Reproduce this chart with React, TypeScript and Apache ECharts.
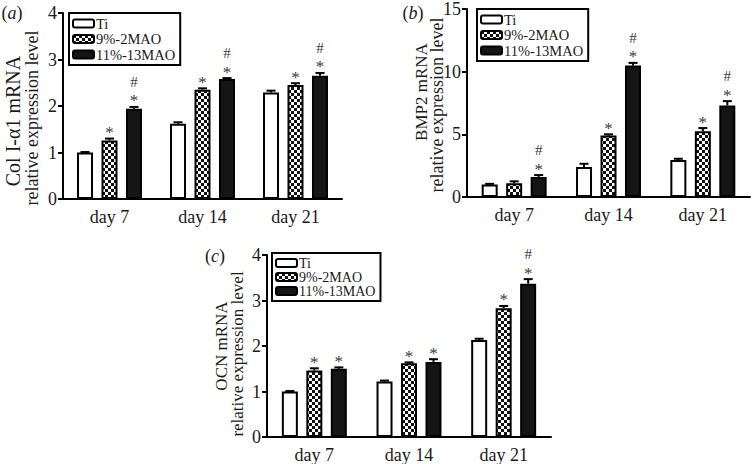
import React, { useEffect, useRef } from "react";
import * as echarts from "echarts";

const categories = ["day 7", "day 14", "day 21"];
const groupNames = ["Ti", "9%-2MAO", "11%-13MAO"];

// Panel (a) Col I-α1
const colTi = [1.0, 1.62, 2.29];
const colM9 = [1.26, 2.35, 2.45];
const colM11 = [1.94, 2.58, 2.65];
const colErrTi = [0.01, 0.03, 0.04];
const colErrM9 = [0.04, 0.03, 0.04];
const colErrM11 = [0.04, 0.02, 0.06];
const colSigTi = ["", "", ""];
const colSigM9 = ["*", "*", "*"];
const colSigM11 = ["#*", "#*", "#*"];

// Panel (b) BMP2
const bmpTi = [1.0, 2.4, 2.95];
const bmpM9 = [1.1, 4.9, 5.25];
const bmpM11 = [1.6, 10.5, 7.3];
const bmpErrTi = [0.05, 0.25, 0.1];
const bmpErrM9 = [0.15, 0.1, 0.25];
const bmpErrM11 = [0.15, 0.2, 0.35];
const bmpSigTi = ["", "", ""];
const bmpSigM9 = ["", "*", "*"];
const bmpSigM11 = ["#*", "#*", "#*"];

// Panel (c) OCN
const ocnTi = [1.0, 1.22, 2.13];
const ocnM9 = [1.46, 1.62, 2.83];
const ocnM11 = [1.5, 1.65, 3.37];
const ocnErrTi = [0.01, 0.02, 0.03];
const ocnErrM9 = [0.05, 0.02, 0.05];
const ocnErrM11 = [0.03, 0.06, 0.1];
const ocnSigTi = ["", "", ""];
const ocnSigM9 = ["*", "*", "*"];
const ocnSigM11 = ["*", "*", "#*"];

const yMax = [4, 15, 4];
const yInterval = [1, 5, 1];
const panelLabels = ["a", "b", "c"];
const nameLine1 = ["Col I-\u03b11 mRNA", "BMP2 mRNA", "OCN mRNA"];
const nameLine2 = "relative expression level";

const FONT = "'Liberation Serif', 'Times New Roman', serif";
const TXT = "#1a1a1a";

export default function App() {
  const ref = useRef<HTMLDivElement>(null);
  useEffect(() => {
    if (!ref.current) return;
    const chart = echarts.init(ref.current, undefined, { renderer: "svg" });

    const cv = document.createElement("canvas");
    const cell = 3;
    cv.width = cell * 2;
    cv.height = cell * 2;
    const ctx = cv.getContext("2d")!;
    ctx.fillStyle = "#ffffff";
    ctx.fillRect(0, 0, cell * 2, cell * 2);
    ctx.fillStyle = "#111111";
    ctx.fillRect(0, 0, cell, cell);
    ctx.fillRect(cell, cell, cell, cell);
    const checker = { image: cv, repeat: "repeat" } as any;

    const fills = ["#ffffff", checker, "#151515"];

    const panels = [
      { vals: [colTi, colM9, colM11], errs: [colErrTi, colErrM9, colErrM11], sigs: [colSigTi, colSigM9, colSigM11] },
      { vals: [bmpTi, bmpM9, bmpM11], errs: [bmpErrTi, bmpErrM9, bmpErrM11], sigs: [bmpSigTi, bmpSigM9, bmpSigM11] },
      { vals: [ocnTi, ocnM9, ocnM11], errs: [ocnErrTi, ocnErrM9, ocnErrM11], sigs: [ocnSigTi, ocnSigM9, ocnSigM11] },
    ];

    const grids = [
      { left: 63, top: 13, width: 279, height: 186 },
      { left: 467, top: 9, width: 283, height: 188 },
      { left: 267, top: 255, width: 284, height: 186 },
    ];

    const legends = [
      { left: 69, top: 13 },
      { left: 477, top: 9 },
      { left: 272, top: 253 },
    ];

    const barW = 16;
    const step = 24.5;

    const series: any[] = [];
    panels.forEach((p, pi) => {
      p.vals.forEach((v, gi) => {
        series.push({
          type: "bar",
          name: groupNames[gi],
          xAxisIndex: pi,
          yAxisIndex: pi,
          data: v,
          barWidth: barW,
          barGap: "53%",
          itemStyle: { color: fills[gi], borderColor: "#000", borderWidth: 2 },
          emphasis: { disabled: true },
        });
      });
    });
    panels.forEach((p, pi) => {
      p.vals.forEach((v, gi) => {
        const sig = p.sigs[gi];
        series.push({
          type: "custom",
          name: "err" + pi + gi,
          xAxisIndex: pi,
          yAxisIndex: pi,
          itemStyle: { color: "#333" },
          data: v.map((val, i) => [i, val, p.errs[gi][i]]),
          z: 5,
          renderItem: (params: any, api: any) => {
            const idx = api.value(0);
            const val = api.value(1);
            const e = api.value(2);
            const base = api.coord([idx, val]);
            const top = api.coord([idx, val + e]);
            const x = base[0] + (gi - 1) * step;
            const yb = base[1];
            const yt = top[1];
            const children: any[] = [
              { type: "line", shape: { x1: x, y1: yb, x2: x, y2: yt }, style: { stroke: "#000", lineWidth: 2 } },
              { type: "line", shape: { x1: x - 4.5, y1: yt, x2: x + 4.5, y2: yt }, style: { stroke: "#000", lineWidth: 2 } },
            ];
            const s = sig[params.dataIndex] || "";
            if (s.includes("*")) {
              children.push({
                type: "text",
                style: { text: "*", x, y: yt - 6, align: "center", verticalAlign: "middle", fontSize: 17, fontFamily: FONT, fill: "#3a3a3a", stroke: "none" },
              });
            }
            if (s.includes("#")) {
              children.push({
                type: "text",
                style: { text: "#", x, y: yt - 25, align: "center", verticalAlign: "middle", fontSize: 15, fontFamily: FONT, fill: "#3a3a3a", stroke: "none" },
              });
            }
            return { type: "group", children };
          },
        });
      });
    });

    const graphic: any[] = [];
    const nameCfg = [
      { l1: [13, 121], l2: [32, 118], f1: 20, f2: 18 },
      { l1: [421, 92], l2: [437, 105], f1: 17, f2: 18 },
      { l1: [221, 346], l2: [237, 354], f1: 17, f2: 17 },
    ];
    const labelPos = [
      [12, 13],
      [413, 13],
      [215, 256],
    ];
    for (let pi = 0; pi < 3; pi++) {
      graphic.push({
        type: "text",
        x: nameCfg[pi].l1[0],
        y: nameCfg[pi].l1[1],
        rotation: Math.PI / 2,
        style: { text: nameLine1[pi], align: "center", verticalAlign: "middle", fontSize: nameCfg[pi].f1, fontFamily: FONT, fill: TXT },
      });
      graphic.push({
        type: "text",
        x: nameCfg[pi].l2[0],
        y: nameCfg[pi].l2[1],
        rotation: Math.PI / 2,
        style: { text: nameLine2, align: "center", verticalAlign: "middle", fontSize: nameCfg[pi].f2, fontFamily: FONT, fill: TXT },
      });
      graphic.push({
        type: "text",
        x: labelPos[pi][0],
        y: labelPos[pi][1],
        style: {
          text: "{n|(}{i|" + panelLabels[pi] + "}{n|)}",
          align: "center",
          verticalAlign: "middle",
          fontSize: 18,
          fontFamily: FONT,
          fill: TXT,
          rich: {
            n: { fontSize: 18, fontFamily: FONT, fill: TXT },
            i: { fontSize: 18, fontFamily: FONT, fontStyle: "italic", fill: TXT },
          },
        },
      });
    }

    const option: any = {
      animation: false,
      backgroundColor: "#fff",
      grid: grids.map((g) => ({ ...g, containLabel: false })),
      legend: legends.map((l, li) => ({
        ...l,
        orient: "vertical",
        data: groupNames,
        itemWidth: 21,
        itemHeight: 8,
        itemGap: li === 2 ? 0 : 0.5,
        icon: "roundRect",
        padding: [3, 5, 3, 3],
        borderColor: "#000",
        borderWidth: 2,
        selectedMode: false,
        textStyle: { fontSize: li === 2 ? 14 : 14.5, fontFamily: FONT, color: TXT, padding: [0, 0, 0, -3] },
      })),
      xAxis: [0, 1, 2].map((pi) => ({
        type: "category",
        gridIndex: pi,
        data: categories,
        axisLine: { lineStyle: { color: "#000", width: 2 } },
        axisTick: { alignWithLabel: true, length: 5, lineStyle: { color: "#000", width: 2 } },
        axisLabel: { fontSize: 18, fontFamily: FONT, color: TXT, margin: 9 },
      })),
      yAxis: [0, 1, 2].map((pi) => ({
        type: "value",
        gridIndex: pi,
        min: 0,
        max: yMax[pi],
        interval: yInterval[pi],
        splitLine: { show: false },
        axisLine: { show: true, lineStyle: { color: "#000", width: 2 } },
        axisTick: { show: true, length: 5, lineStyle: { color: "#000", width: 2 } },
        axisLabel: { fontSize: 18, fontFamily: FONT, color: TXT, margin: 6 },
      })),
      series,
      graphic,
    };
    chart.setOption(option);
    return () => chart.dispose();
  }, []);
  return (
    <div
      ref={ref}
      style={{ position: "absolute", left: 0, top: 0, width: 752, height: 464, background: "#fff" }}
    />
  );
}
